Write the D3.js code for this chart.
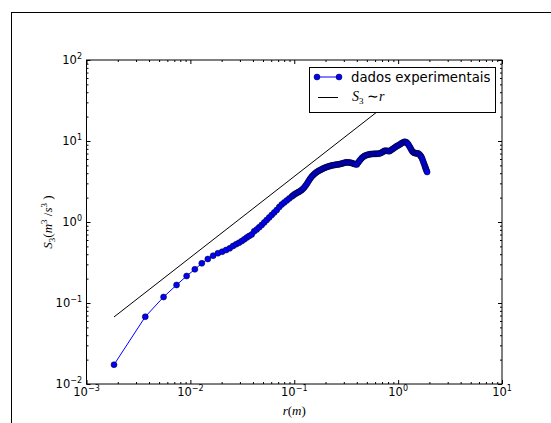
<!DOCTYPE html>
<html>
<head>
<meta charset="utf-8">
<script src="https://cdn.jsdelivr.net/npm/d3@7"></script>
<style>
  body { margin: 0; background: #fff; }
  svg { display: block; }
</style>
</head>
<body>
<div id="chart"></div>
<script>
// tick labels (powers of ten)
const xTicks = [1e-3, 1e-2, 1e-1, 1e0, 1e1];
const xTickExp = ["\u22123", "\u22122", "\u22121", "0", "1"];
const yTicks = [1e-2, 1e-1, 1e0, 1e1, 1e2];
const yTickExp = ["\u22122", "\u22121", "0", "1", "2"];

// measured third-order structure function
const rValues = [0.00184, 0.00368, 0.00552, 0.00736, 0.0092, 0.01104, 0.01288, 0.01472, 0.01656, 0.0184,
  0.02024, 0.02208, 0.02392, 0.02576, 0.0276, 0.02944, 0.03128, 0.03312, 0.03496, 0.0368,
  0.03895, 0.04115, 0.04351, 0.04599, 0.04861, 0.05138, 0.0543, 0.05741, 0.06068, 0.06415,
  0.06781, 0.07167, 0.07577, 0.0801, 0.08467, 0.0895,
  0.0946, 0.09726, 0.1, 0.1028, 0.1057, 0.1086, 0.1117, 0.1148, 0.1181, 0.1214,
  0.1248, 0.1283, 0.132, 0.1357, 0.1395, 0.1434, 0.1475, 0.1516, 0.1559, 0.1603,
  0.1648, 0.1694, 0.1742, 0.1791, 0.1841, 0.1893, 0.1946, 0.2001, 0.2057, 0.2115,
  0.2175, 0.2236, 0.2299, 0.2364, 0.243, 0.2498, 0.2568, 0.2641, 0.2715, 0.2791,
  0.287, 0.2951, 0.3033, 0.3119, 0.3206, 0.3296, 0.3389, 0.3484, 0.3582, 0.3683,
  0.3787, 0.3893, 0.4003, 0.4116, 0.4231, 0.435, 0.4473, 0.4599, 0.4728, 0.4861,
  0.4998, 0.5139, 0.5283, 0.5432, 0.5585, 0.5742, 0.5904, 0.607, 0.6241, 0.6417,
  0.6597, 0.6783, 0.6973, 0.717, 0.7371, 0.7579, 0.7792, 0.8011, 0.8236, 0.8468,
  0.8707, 0.8952, 0.9203, 0.9462, 0.9728, 1.0, 1.028, 1.057, 1.087, 1.118,
  1.149, 1.175, 1.201, 1.228, 1.255, 1.284, 1.313, 1.342, 1.372, 1.403,
  1.434, 1.466, 1.499, 1.533, 1.567, 1.603, 1.639, 1.666, 1.694, 1.722,
  1.751, 1.78, 1.81, 1.83, 1.851, 1.876, 1.901];
const s3Values = [0.0173, 0.0677, 0.1186, 0.1668, 0.2154, 0.2606, 0.309, 0.349, 0.384, 0.411,
  0.43, 0.451, 0.473, 0.506, 0.532, 0.555, 0.582, 0.611, 0.644, 0.672,
  0.701, 0.768, 0.808, 0.86, 0.918, 0.986, 1.058, 1.137, 1.22, 1.31,
  1.406, 1.531, 1.644, 1.741, 1.843, 1.95,
  2.064, 2.124, 2.185, 2.232, 2.28, 2.323, 2.366, 2.424, 2.483, 2.572,
  2.667, 2.8, 2.944, 3.12, 3.3, 3.47, 3.645, 3.78, 3.914, 4.03,
  4.143, 4.23, 4.323, 4.4, 4.486, 4.56, 4.642, 4.71, 4.775, 4.83,
  4.886, 4.935, 4.984, 5.02, 5.055, 5.085, 5.113, 5.14, 5.171, 5.215,
  5.26, 5.32, 5.381, 5.42, 5.458, 5.445, 5.427, 5.39, 5.35, 5.27,
  5.2, 5.16, 5.127, 5.39, 5.664, 5.91, 6.167, 6.35, 6.528, 6.62,
  6.717, 6.78, 6.851, 6.88, 6.91, 6.93, 6.95, 6.95, 6.95, 6.97,
  6.989, 7.09, 7.211, 7.39, 7.568, 7.57, 7.568, 7.52, 7.482, 7.66,
  7.853, 8.04, 8.241, 8.45, 8.675, 8.82, 8.977, 9.21, 9.448, 9.61,
  9.774, 9.72, 9.638, 9.36, 9.054, 8.6, 8.196, 7.79, 7.42, 7.25,
  7.11, 7.08, 7.049, 7.03, 7.01, 6.82, 6.622, 6.4, 6.167, 5.83,
  5.504, 5.2, 4.913, 4.71, 4.512, 4.32, 4.143];

// reference line S3 ~ r (end points)
const refR = [0.00184, 1.901];
const refS3 = [0.0672, 69.4];

const width = 551, height = 423;
const plot = {left: 86.5, right: 502, top: 60, bottom: 384};

const x = d3.scaleLog().domain([1e-3, 1e1]).range([plot.left, plot.right]);
const y = d3.scaleLog().domain([1e-2, 1e2]).range([plot.bottom, plot.top]);

const svg = d3.select("#chart").append("svg")
    .attr("width", width)
    .attr("height", height)
    .style("font-family", "DejaVu Sans");

// figure frame
svg.append("rect")
    .attr("x", 11.5).attr("y", 12.5)
    .attr("width", 700).attr("height", 700)
    .attr("fill", "none").attr("stroke", "#000");

const data = rValues.map((r, i) => ({r: r, s: s3Values[i]}));
const ref = refR.map((r, i) => ({r: r, s: refS3[i]}));

svg.append("clipPath").attr("id", "clip")
    .append("rect")
    .attr("x", plot.left).attr("y", plot.top)
    .attr("width", plot.right - plot.left).attr("height", plot.bottom - plot.top);

const line = d3.line().x(d => x(d.r)).y(d => y(d.s));

const g = svg.append("g").attr("clip-path", "url(#clip)");

g.append("path")
    .datum(ref)
    .attr("d", line)
    .attr("fill", "none")
    .attr("stroke", "#000")
    .attr("stroke-width", 1);

g.append("path")
    .datum(data)
    .attr("d", line)
    .attr("fill", "none")
    .attr("stroke", "#0000ff")
    .attr("stroke-width", 1);

g.selectAll("circle")
    .data(data)
    .join("circle")
    .attr("cx", d => x(d.r))
    .attr("cy", d => y(d.s))
    .attr("r", 3)
    .attr("fill", "#0000ff")
    .attr("stroke", "#000")
    .attr("stroke-width", 0.5);

// axes: ticks inward on all four sides
const isMajor = v => Math.abs(Math.log10(v) - Math.round(Math.log10(v))) < 1e-6;
const xMinor = x.ticks().filter(v => !isMajor(v));
const yMinor = y.ticks().filter(v => !isMajor(v));

function axisGroup(axis, tx, ty) {
  svg.append("g")
      .attr("transform", `translate(${tx},${ty})`)
      .call(axis)
      .call(a => a.select(".domain").remove())
      .call(a => a.selectAll("line").attr("stroke", "#000"));
}
axisGroup(d3.axisBottom(x).tickValues(xTicks).tickSize(-4).tickFormat(""), 0, plot.bottom);
axisGroup(d3.axisBottom(x).tickValues(xMinor).tickSize(-2).tickFormat(""), 0, plot.bottom);
axisGroup(d3.axisTop(x).tickValues(xTicks).tickSize(-4).tickFormat(""), 0, plot.top);
axisGroup(d3.axisTop(x).tickValues(xMinor).tickSize(-2).tickFormat(""), 0, plot.top);
axisGroup(d3.axisLeft(y).tickValues(yTicks).tickSize(-4).tickFormat(""), plot.left, 0);
axisGroup(d3.axisLeft(y).tickValues(yMinor).tickSize(-2).tickFormat(""), plot.left, 0);
axisGroup(d3.axisRight(y).tickValues(yTicks).tickSize(-4).tickFormat(""), plot.right, 0);
axisGroup(d3.axisRight(y).tickValues(yMinor).tickSize(-2).tickFormat(""), plot.right, 0);

svg.append("rect")
    .attr("x", plot.left).attr("y", plot.top)
    .attr("width", plot.right - plot.left).attr("height", plot.bottom - plot.top)
    .attr("fill", "none").attr("stroke", "#000");

// tick labels
svg.append("g")
    .selectAll("text")
    .data(xTicks)
    .join("text")
    .attr("x", d => x(d))
    .attr("y", 396)
    .attr("text-anchor", "middle")
    .attr("font-size", 11.5)
    .text("10")
    .append("tspan")
    .attr("dy", -5)
    .attr("font-size", 8)
    .text((d, i) => xTickExp[i]);

svg.append("g")
    .selectAll("text")
    .data(yTicks)
    .join("text")
    .attr("x", 82)
    .attr("y", d => y(d) + 4)
    .attr("text-anchor", "end")
    .attr("font-size", 11.5)
    .text("10")
    .append("tspan")
    .attr("dy", -5)
    .attr("font-size", 8)
    .text((d, i) => yTickExp[i]);

// axis labels
const serif = "Liberation Serif";
const xl = svg.append("text")
    .attr("x", (plot.left + plot.right) / 2)
    .attr("y", 415)
    .attr("text-anchor", "middle")
    .attr("font-family", serif)
    .attr("font-size", 13);
xl.append("tspan").attr("font-style", "italic").text("r");
xl.append("tspan").text("(");
xl.append("tspan").attr("font-style", "italic").text("m");
xl.append("tspan").text(")");

const yl = svg.append("text")
    .attr("transform", `translate(52,${(plot.top + plot.bottom) / 2}) rotate(-90)`)
    .attr("text-anchor", "middle")
    .attr("font-family", serif)
    .attr("font-size", 13);
yl.append("tspan").attr("font-style", "italic").text("S");
yl.append("tspan").attr("font-size", 9).attr("dy", 3).text("3");
yl.append("tspan").attr("dy", -3).text("(");
yl.append("tspan").attr("font-style", "italic").text("m");
yl.append("tspan").attr("font-size", 9).attr("dy", -5).text("3");
yl.append("tspan").attr("dy", 5).text(" /");
yl.append("tspan").attr("font-style", "italic").text("s");
yl.append("tspan").attr("font-size", 9).attr("dy", -5).text("3");
yl.append("tspan").attr("dy", 5).text(" )");

// legend
const lg = svg.append("g");
lg.append("rect")
    .attr("x", 309.5).attr("y", 67.5)
    .attr("width", 186).attr("height", 45)
    .attr("fill", "#fff").attr("stroke", "#000");
lg.append("line")
    .attr("x1", 317).attr("x2", 339).attr("y1", 77).attr("y2", 77)
    .attr("stroke", "#0000ff");
lg.selectAll("circle")
    .data([317, 339])
    .join("circle")
    .attr("cx", d => d).attr("cy", 77).attr("r", 3)
    .attr("fill", "#0000ff").attr("stroke", "#000").attr("stroke-width", 0.5);
lg.append("text")
    .attr("x", 351).attr("y", 82)
    .attr("font-size", 13.3)
    .text("dados experimentais");
lg.append("line")
    .attr("x1", 318).attr("x2", 338).attr("y1", 97.5).attr("y2", 97.5)
    .attr("stroke", "#000");
const lt = lg.append("text")
    .attr("x", 352).attr("y", 101)
    .attr("font-family", serif)
    .attr("font-size", 14);
lt.append("tspan").attr("font-style", "italic").text("S");
lt.append("tspan").attr("font-size", 9).attr("dy", 3).text("3");
lt.append("tspan").attr("dy", -3).text(" \u223C");
lt.append("tspan").attr("font-style", "italic").text("r");
</script>
</body>
</html>
